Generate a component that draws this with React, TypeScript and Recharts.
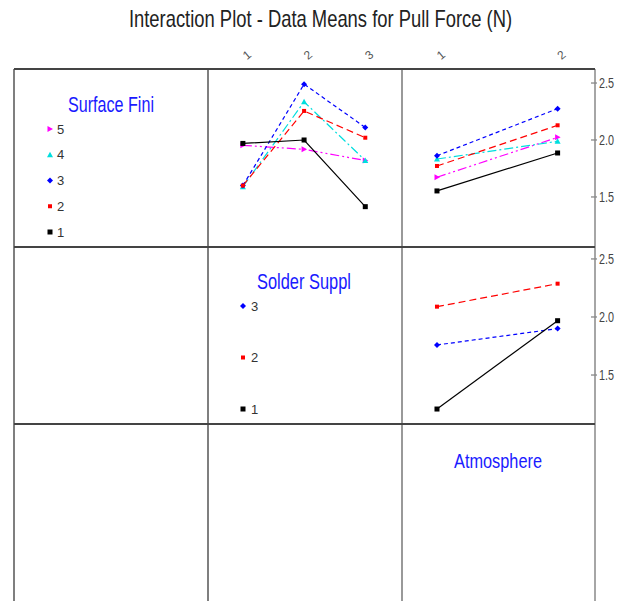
import React from 'react';
import { LineChart, Line, XAxis, YAxis } from 'recharts';

// ---- data ----
const solderLevels = [1, 2, 3];
const atmosphereLevels = [1, 2];
const surfaceLabels = ['1', '2', '3', '4', '5'];
const solderLabels = ['1', '2', '3'];
const yTicks = [1.5, 2.0, 2.5];

// Surface Finish means vs Solder Supply
const sf1BySolder = [1.97, 2.0, 1.415];
const sf2BySolder = [1.6, 2.255, 2.02];
const sf3BySolder = [1.6, 2.49, 2.11];
const sf4BySolder = [1.59, 2.335, 1.82];
const sf5BySolder = [1.953, 1.918, 1.82];

// Surface Finish means vs Atmosphere
const sf1ByAtm = [1.553, 1.886];
const sf2ByAtm = [1.772, 2.129];
const sf3ByAtm = [1.862, 2.275];
const sf4ByAtm = [1.833, 1.988];
const sf5ByAtm = [1.673, 2.023];

// Solder Supply means vs Atmosphere
const ss1ByAtm = [1.207, 1.968];
const ss2ByAtm = [2.089, 2.287];
const ss3ByAtm = [1.759, 1.9];

const sfBySolder = [sf1BySolder, sf2BySolder, sf3BySolder, sf4BySolder, sf5BySolder];
const sfByAtm = [sf1ByAtm, sf2ByAtm, sf3ByAtm, sf4ByAtm, sf5ByAtm];
const ssByAtm = [ss1ByAtm, ss2ByAtm, ss3ByAtm];

const build = (levels: number[], series: number[][]) =>
  levels.map((lv, i) => {
    const row: any = { level: lv };
    series.forEach((s, k) => (row['s' + (k + 1)] = s[i]));
    return row;
  });

const dataSfSolder = build(solderLevels, sfBySolder);
const dataSfAtm = build(atmosphereLevels, sfByAtm);
const dataSsAtm = build(atmosphereLevels, ssByAtm);

// ---- styles ----
const STYLES = [
  { color: '#000000', dash: undefined as any, shape: 'square' },
  { color: '#ff0000', dash: '7 4', shape: 'smallSquare' },
  { color: '#0000ff', dash: '4 3', shape: 'diamond' },
  { color: '#00dede', dash: '9 3 2 3', shape: 'triUp' },
  { color: '#ff00ff', dash: '9 3 2 3 2 3', shape: 'triRight' },
];

const FONT = "'Liberation Sans Narrow', 'Liberation Sans', Arial, sans-serif";
const ROW1_DOMAIN: [number, number] = [1.061, 2.623];
const ROW2_DOMAIN: [number, number] = [1.078, 2.603];
const COL2_DOMAIN: [number, number] = [0.43, 3.6];
const COL3_DOMAIN: [number, number] = [0.71, 2.31];

const Marker = ({ cx, cy, shape, color }: any) => {
  if (cx == null || cy == null) return null;
  switch (shape) {
    case 'square':
      return <rect x={cx - 2.5} y={cy - 2.5} width={5} height={5} fill={color} />;
    case 'smallSquare':
      return <rect x={cx - 2} y={cy - 2} width={4} height={4} fill={color} />;
    case 'diamond':
      return <polygon points={`${cx},${cy - 3} ${cx + 3},${cy} ${cx},${cy + 3} ${cx - 3},${cy}`} fill={color} />;
    case 'triUp':
      return <polygon points={`${cx},${cy - 3} ${cx + 3},${cy + 2.5} ${cx - 3},${cy + 2.5}`} fill={color} />;
    case 'triRight':
      return <polygon points={`${cx - 2.5},${cy - 3} ${cx + 3},${cy} ${cx - 2.5},${cy + 3}`} fill={color} />;
    default:
      return null;
  }
};

const TopTick = (p: any) => {
  const x = p.x + 4;
  const y = p.y - 14;
  return (
    <text x={x} y={y} transform={`rotate(-40 ${x} ${y})`} textAnchor="middle" dominantBaseline="central"
      fontSize={12} fontFamily={FONT} fill="#555">
      {p.payload.value}
    </text>
  );
};

const RightTick = (p: any) => (
  <g>
    <line x1={p.x - 4} y1={p.y} x2={p.x + 2} y2={p.y} stroke="#666" strokeWidth={1} />
    <text x={p.x + 4} y={p.y + 5} fontSize={14} fontFamily={FONT} fill="#444" textLength={15}
      lengthAdjust="spacingAndGlyphs">
      {Number(p.payload.value).toFixed(1)}
    </text>
  </g>
);

const renderLines = (n: number, prefix: string) =>
  Array.from({ length: n }, (_, k) => n - 1 - k).map((k) => {
    const st = STYLES[k];
    return (
      <Line
        key={prefix + k}
        type="linear"
        dataKey={'s' + (k + 1)}
        stroke={st.color}
        strokeWidth={1.2}
        strokeDasharray={st.dash}
        isAnimationActive={false}
        dot={(p: any) => <Marker key={`${prefix}${k}-${p.index}`} cx={p.cx} cy={p.cy} shape={st.shape} color={st.color} />}
        activeDot={false}
      />
    );
  });

const abs = (left: number, top: number): React.CSSProperties => ({ position: 'absolute', left, top });

export default function App() {
  const xs = [14, 208, 402, 595];
  const ys = [69, 247, 424, 601];
  return (
    <div style={{ position: 'absolute', left: 0, top: 0, width: 624, height: 601, background: '#fff', overflow: 'hidden' }}>
      {/* Row 1, col 2: Surface Finish vs Solder Supply */}
      <div style={abs(208, 39)}>
        <LineChart width={194} height={208} data={dataSfSolder} margin={{ top: 0, right: 0, bottom: 0, left: 0 }}>
          <XAxis dataKey="level" type="number" orientation="top" domain={COL2_DOMAIN} ticks={solderLevels}
            height={30} axisLine={false} tickLine={false} tickSize={0} tickMargin={0} tick={TopTick} />
          <YAxis hide domain={ROW1_DOMAIN} type="number" />
          {renderLines(5, 'a')}
        </LineChart>
      </div>
      {/* Row 1, col 3: Surface Finish vs Atmosphere */}
      <div style={abs(402, 39)}>
        <LineChart width={222} height={208} data={dataSfAtm} margin={{ top: 0, right: 0, bottom: 0, left: 0 }}>
          <XAxis dataKey="level" type="number" orientation="top" domain={COL3_DOMAIN} ticks={atmosphereLevels}
            height={30} axisLine={false} tickLine={false} tickSize={0} tickMargin={0} tick={TopTick} />
          <YAxis orientation="right" width={29} domain={ROW1_DOMAIN} type="number" ticks={yTicks}
            axisLine={false} tickLine={false} tickSize={0} tickMargin={0} tick={RightTick} />
          {renderLines(5, 'b')}
        </LineChart>
      </div>
      {/* Row 2, col 3: Solder Supply vs Atmosphere */}
      <div style={abs(402, 247)}>
        <LineChart width={222} height={177} data={dataSsAtm} margin={{ top: 0, right: 0, bottom: 0, left: 0 }}>
          <XAxis dataKey="level" type="number" hide domain={COL3_DOMAIN} />
          <YAxis orientation="right" width={29} domain={ROW2_DOMAIN} type="number" ticks={yTicks}
            axisLine={false} tickLine={false} tickSize={0} tickMargin={0} tick={RightTick} />
          {renderLines(3, 'c')}
        </LineChart>
      </div>

      {/* Overlay: frame, title, legends */}
      <svg width={624} height={601} style={{ position: 'absolute', left: 0, top: 0, pointerEvents: 'none' }}>
        <g transform="translate(320.5 27) scale(0.8 1)">
          <text x={0} y={0} fontSize={23} fontFamily={FONT} fill="#222" textAnchor="middle">
            Interaction Plot - Data Means for Pull Force (N)
          </text>
        </g>
        {/* verticals */}
        <line x1={xs[0]} y1={ys[0]} x2={xs[0]} y2={601} stroke="#555" strokeWidth={1.5} />
        <line x1={xs[1]} y1={ys[0]} x2={xs[1]} y2={601} stroke="#555" strokeWidth={1.5} />
        <line x1={xs[2]} y1={ys[0]} x2={xs[2]} y2={601} stroke="#777" strokeWidth={1.5} />
        <line x1={xs[3]} y1={ys[0]} x2={xs[3]} y2={601} stroke="#888" strokeWidth={1.5} />
        {/* horizontals */}
        <line x1={xs[0]} y1={ys[0]} x2={xs[3]} y2={ys[0]} stroke="#444" strokeWidth={2} />
        <line x1={xs[0]} y1={ys[1]} x2={xs[3]} y2={ys[1]} stroke="#444" strokeWidth={2} />
        <line x1={xs[0]} y1={ys[2]} x2={xs[3]} y2={ys[2]} stroke="#444" strokeWidth={2} />

        {/* Surface Finish legend */}
        <text x={68} y={112} fontSize={22} fontFamily={FONT} fill="#1a1aff" textLength={86} lengthAdjust="spacingAndGlyphs">
          Surface Fini
        </text>
        {surfaceLabels.map((lab, k) => {
          const cy = 232 - k * 25.75;
          return (
            <g key={'sl' + k}>
              <Marker cx={50} cy={cy} shape={STYLES[k].shape} color={STYLES[k].color} />
              <text x={57} y={cy + 4.5} fontSize={13} fontFamily={FONT} fill="#333">{lab}</text>
            </g>
          );
        })}

        {/* Solder Supply legend */}
        <text x={257} y={289} fontSize={22} fontFamily={FONT} fill="#1a1aff" textLength={94} lengthAdjust="spacingAndGlyphs">
          Solder Suppl
        </text>
        {solderLabels.map((lab, k) => {
          const cy = 409 - k * 51.5;
          return (
            <g key={'ssl' + k}>
              <Marker cx={243} cy={cy} shape={STYLES[k].shape} color={STYLES[k].color} />
              <text x={251} y={cy + 4.5} fontSize={13} fontFamily={FONT} fill="#333">{lab}</text>
            </g>
          );
        })}

        {/* Atmosphere label */}
        <text x={454} y={468} fontSize={21} fontFamily={FONT} fill="#1a1aff" textLength={88} lengthAdjust="spacingAndGlyphs">
          Atmosphere
        </text>
      </svg>
    </div>
  );
}
